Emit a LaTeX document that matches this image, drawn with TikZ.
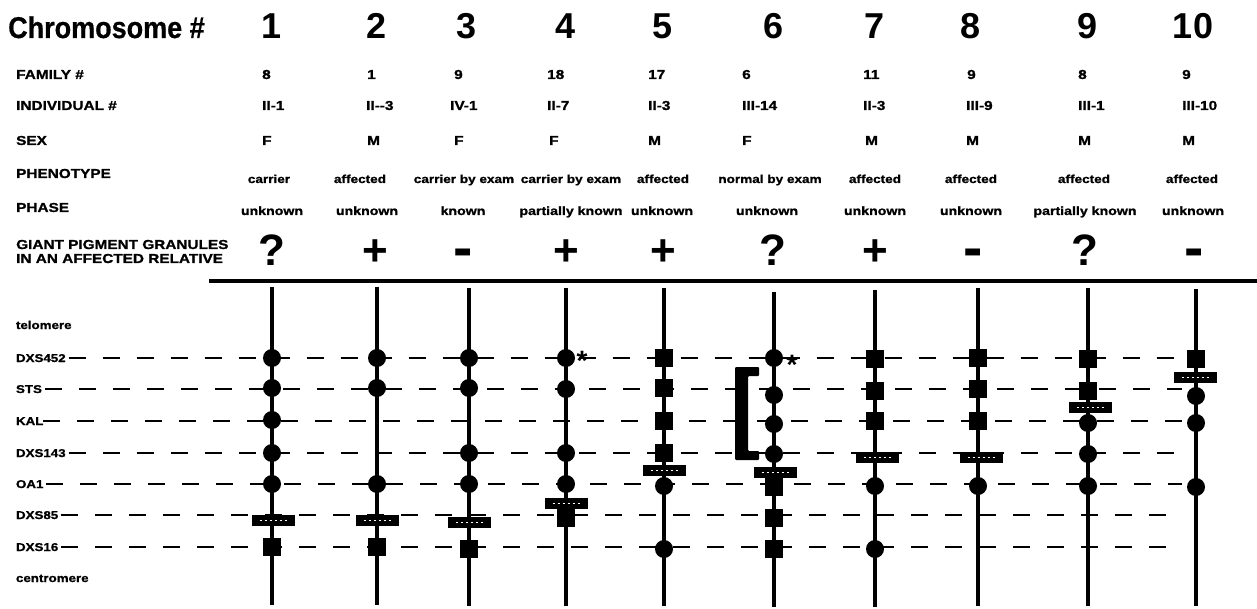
\documentclass[tikz,border=0pt]{standalone}
\usepackage{fontspec}
\setmainfont{Liberation Sans}
\newfontfamily\widesf{Liberation Sans}[FakeStretch=1.18, FakeBold=1.2]
\newfontfamily\titlesf{Liberation Sans}[FakeStretch=0.9, FakeBold=0.6]
\usepackage{tikz}

\begin{document}
\begin{tikzpicture}[
  x=1pt, y=-1pt,
  rowlbl/.style={font=\widesf\bfseries\fontsize{13}{15}\selectfont, anchor=base west, inner sep=0pt},
  cellc/.style={font=\widesf\bfseries\fontsize{12}{14}\selectfont, anchor=base, inner sep=0pt},
  phen/.style={font=\widesf\bfseries\fontsize{11.5}{13}\selectfont, anchor=base, inner sep=0pt},
  locus/.style={font=\widesf\bfseries\fontsize{11.3}{13}\selectfont, anchor=base west, inner sep=0pt, outer sep=3pt},
  bignum/.style={font=\bfseries\fontsize{36}{36}\selectfont, anchor=base, inner sep=0pt},
  sym/.style={font=\bfseries\fontsize{44}{44}\selectfont, anchor=base, inner sep=0pt},
  minus/.style={font=\bfseries\fontsize{58}{58}\selectfont, anchor=base, inner sep=0pt},
  ast/.style={font=\bfseries\fontsize{28}{28}\selectfont, anchor=base, inner sep=0pt},
  dot/.style={circle, fill, inner sep=0pt, minimum size=18pt},
  sqr/.style={rectangle, fill, inner sep=0pt, minimum size=18pt},
  xover/.style={rectangle, fill, inner sep=0pt, minimum width=43pt, minimum height=11pt,
    path picture={\draw[white, line width=1pt, dash pattern=on 2pt off 3pt]
      ([xshift=8pt]path picture bounding box.west) -- ([xshift=-8pt]path picture bounding box.east);}},
  chrom/.style={line width=4pt},
  guide/.style={line width=2.6pt, dash pattern=on 17pt off 17pt},
  rule/.style={line width=4pt}
]
  \useasboundingbox[fill=white] (0,0) rectangle (1257,609);

  % header
  \node[font=\titlesf\bfseries\fontsize{30}{30}\selectfont, anchor=base west, inner sep=0pt] (title) at (8,38) {Chromosome \#};
  \node[bignum] (n1) at (272,39) {1};
  \node[bignum] (n2) at (377,39) {2};
  \node[bignum] (n3) at (467,39) {3};
  \node[bignum] (n4) at (566,39) {4};
  \node[bignum] (n5) at (663,39) {5};
  \node[bignum] (n6) at (773,39) {6};
  \node[bignum] (n7) at (874,39) {7};
  \node[bignum] (n8) at (970,39) {8};
  \node[bignum] (n9) at (1087,39) {9};
  \node[bignum] (n10) at (1193,39) {10};

  \node[rowlbl] (fam) at (16,79) {FAMILY \#};
  \node[rowlbl] (ind) at (16,110) {INDIVIDUAL \#};
  \node[rowlbl] (sex) at (16,145) {SEX};
  \node[rowlbl] (phe) at (16,178) {PHENOTYPE};
  \node[rowlbl] (pha) at (16,212) {PHASE};
  \node[rowlbl] (gia) at (16,249) {GIANT PIGMENT GRANULES};
  \node[rowlbl] (rel) at (16,263) {IN AN AFFECTED RELATIVE};

  % family
  \node[rowlbl] (f1) at (262,79) {8};
  \node[rowlbl] (f2) at (367,79) {1};
  \node[rowlbl] (f3) at (454,79) {9};
  \node[rowlbl] (f4) at (547,79) {18};
  \node[rowlbl] (f5) at (648,79) {17};
  \node[rowlbl] (f6) at (742,79) {6};
  \node[rowlbl] (f7) at (863,79) {11};
  \node[rowlbl] (f8) at (967,79) {9};
  \node[rowlbl] (f9) at (1078,79) {8};
  \node[rowlbl] (f10) at (1182,79) {9};
  % individual
  \node[rowlbl] (i1) at (262,110) {II-1};
  \node[rowlbl] (i2) at (366,110) {II--3};
  \node[rowlbl] (i3) at (450,110) {IV-1};
  \node[rowlbl] (i4) at (547,110) {II-7};
  \node[rowlbl] (i5) at (648,110) {II-3};
  \node[rowlbl] (i6) at (742,110) {III-14};
  \node[rowlbl] (i7) at (863,110) {II-3};
  \node[rowlbl] (i8) at (966,110) {III-9};
  \node[rowlbl] (i9) at (1078,110) {III-1};
  \node[rowlbl] (i10) at (1182,110) {III-10};
  % sex
  \node[rowlbl] (s1) at (262,145) {F};
  \node[rowlbl] (s2) at (367,145) {M};
  \node[rowlbl] (s3) at (454,145) {F};
  \node[rowlbl] (s4) at (549,145) {F};
  \node[rowlbl] (s5) at (648,145) {M};
  \node[rowlbl] (s6) at (742,145) {F};
  \node[rowlbl] (s7) at (865,145) {M};
  \node[rowlbl] (s8) at (966,145) {M};
  \node[rowlbl] (s9) at (1078,145) {M};
  \node[rowlbl] (s10) at (1182,145) {M};
  % phenotype
  \node[phen] (p1) at (269,183) {carrier};
  \node[phen] (p2) at (360,183) {affected};
  \node[phen] (p3) at (464,183) {carrier by exam};
  \node[phen] (p4) at (571,183) {carrier by exam};
  \node[phen] (p5) at (663,183) {affected};
  \node[phen] (p6) at (770,183) {normal by exam};
  \node[phen] (p7) at (875,183) {affected};
  \node[phen] (p8) at (971,183) {affected};
  \node[phen] (p9) at (1084,183) {affected};
  \node[phen] (p10) at (1192,183) {affected};
  % phase
  \node[cellc] (h1) at (272,215) {unknown};
  \node[cellc] (h2) at (367,215) {unknown};
  \node[cellc] (h3) at (463,215) {known};
  \node[cellc] (h4) at (571,215) {partially known};
  \node[cellc] (h5) at (662,215) {unknown};
  \node[cellc] (h6) at (767,215) {unknown};
  \node[cellc] (h7) at (875,215) {unknown};
  \node[cellc] (h8) at (971,215) {unknown};
  \node[cellc] (h9) at (1085,215) {partially known};
  \node[cellc] (h10) at (1193,215) {unknown};
  % granules
  \node[sym] (g1) at (272,266) {?};
  \node[sym] (g2) at (375,266) {+};
  \node[minus] (g3) at (463,268) {-};
  \node[sym] (g4) at (566,266) {+};
  \node[sym] (g5) at (663,266) {+};
  \node[sym] (g6) at (773,266) {?};
  \node[sym] (g7) at (875,266) {+};
  \node[minus] (g8) at (973,268) {-};
  \node[sym] (g9) at (1085,266) {?};
  \node[minus] (g10) at (1194,268) {-};

  \coordinate (r0) at (209,281);
  \coordinate (r1) at (1257,281);
  \draw[rule] (r0) -- (r1);

  % loci
  \node[locus] (tel) at (13,329) {telomere};
  \node[locus] (dxs452) at (13,362) {DXS452};
  \node[locus] (sts) at (13,393) {STS};
  \node[locus, outer sep=0pt] (kal) at (16,425) {KAL};
  \node[locus] (dxs143) at (13,457) {DXS143};
  \node[locus] (oa1) at (13,488) {OA1};
  \node[locus] (dxs85) at (13,519) {DXS85};
  \node[locus] (dxs16) at (13,551) {DXS16};
  \node[locus] (cen) at (13,582) {centromere};

  \coordinate (rend) at (1182,0);
  \draw[guide] (dxs452.east) -- (dxs452.east -| rend);
  \draw[guide] (sts.east) -- (sts.east -| rend);
  \draw[guide] (kal.east) -- (kal.east -| rend);
  \draw[guide] (dxs143.east) -- (dxs143.east -| rend);
  \draw[guide] (oa1.east) -- (oa1.east -| rend);
  \draw[guide] (dxs85.east) -- (dxs85.east -| rend);
  \draw[guide] (dxs16.east) -- (dxs16.east -| rend);

  % chromosomes
  \coordinate (t1) at (272,287);  \coordinate (b1) at (272,605);
  \coordinate (t2) at (377,287);  \coordinate (b2) at (377,605);
  \coordinate (t3) at (469,288);  \coordinate (b3) at (469,606);
  \coordinate (t4) at (566,288);  \coordinate (b4) at (566,606);
  \coordinate (t5) at (664,288);  \coordinate (b5) at (664,606);
  \coordinate (t6) at (774,292);  \coordinate (b6) at (774,607);
  \coordinate (t7) at (875,290);  \coordinate (b7) at (875,607);
  \coordinate (t8) at (978,288);  \coordinate (b8) at (978,606);
  \coordinate (t9) at (1088,288); \coordinate (b9) at (1088,606);
  \coordinate (t10) at (1196,289); \coordinate (b10) at (1196,606);
  \draw[chrom] (t1) -- (b1);
  \draw[chrom] (t2) -- (b2);
  \draw[chrom] (t3) -- (b3);
  \draw[chrom] (t4) -- (b4);
  \draw[chrom] (t5) -- (b5);
  \draw[chrom] (t6) -- (b6);
  \draw[chrom] (t7) -- (b7);
  \draw[chrom] (t8) -- (b8);
  \draw[chrom] (t9) -- (b9);
  \draw[chrom] (t10) -- (b10);

  % chromosome 1
  \node[dot] (a1) at (272,358) {};
  \node[dot] (a2) at (272,388) {};
  \node[dot] (a3) at (272,420) {};
  \node[dot] (a4) at (272,453) {};
  \node[dot] (a5) at (272,484) {};
  \node[xover] (ax) at (273,520) {};
  \node[sqr] (a7) at (272,547) {};
  % chromosome 2
  \node[dot] (b1m) at (377,358) {};
  \node[dot] (b2m) at (377,388) {};
  \node[dot] (b5m) at (377,484) {};
  \node[xover] (bx) at (377,520) {};
  \node[sqr] (b7m) at (377,547) {};
  % chromosome 3
  \node[dot] (c1) at (469,358) {};
  \node[dot] (c2) at (469,388) {};
  \node[dot] (c4) at (469,453) {};
  \node[dot] (c5) at (469,484) {};
  \node[xover] (cx) at (469,522) {};
  \node[sqr] (c7) at (469,549) {};
  % chromosome 4
  \node[dot] (d1) at (566,358) {};
  \node[ast] (d1s) at (582,370) {*};
  \node[dot] (d2) at (566,389) {};
  \node[dot] (d4) at (566,453) {};
  \node[dot] (d5) at (566,484) {};
  \node[xover] (dx) at (566,503) {};
  \node[sqr] (d6) at (566,518) {};
  % chromosome 5
  \node[sqr] (e1) at (664,358) {};
  \node[sqr] (e2) at (664,388) {};
  \node[sqr] (e3) at (664,421) {};
  \node[sqr] (e4) at (664,453) {};
  \node[xover] (ex) at (664,470) {};
  \node[dot] (e5) at (664,486) {};
  \node[dot] (e7) at (664,549) {};
  % chromosome 6
  \node[dot] (f1m) at (774,358) {};
  \node[ast] (f1s) at (792,374) {*};
  \node[dot] (f2m) at (774,395) {};
  \node[dot] (f3m) at (774,424) {};
  \node[dot] (f4m) at (774,454) {};
  \node[xover] (fx) at (775,472) {};
  \node[sqr] (f5m) at (774,487) {};
  \node[sqr] (f6m) at (774,518) {};
  \node[sqr] (f7m) at (774,549) {};
  \fill[rounded corners=1pt] (759,367) -- (735,367) -- (735,460) -- (759,460) -- (759,451)
    -- (748,451) -- (748,376) -- (759,376) -- cycle;
  % chromosome 7
  \node[sqr] (g1m) at (875,359) {};
  \node[sqr] (g2m) at (875,391) {};
  \node[sqr] (g3m) at (875,421) {};
  \node[xover] (gx) at (877,457) {};
  \node[dot] (g5m) at (875,486) {};
  \node[dot] (g7m) at (875,549) {};
  % chromosome 8
  \node[sqr] (k1) at (978,358) {};
  \node[sqr] (k2) at (978,389) {};
  \node[sqr] (k3) at (978,421) {};
  \node[xover] (kx) at (981,457) {};
  \node[dot] (k5) at (978,486) {};
  % chromosome 9
  \node[sqr] (m1) at (1088,359) {};
  \node[sqr] (m2) at (1088,391) {};
  \node[xover] (mx) at (1090,407) {};
  \node[dot] (m3) at (1088,423) {};
  \node[dot] (m4) at (1088,454) {};
  \node[dot] (m5) at (1088,486) {};
  % chromosome 10
  \node[sqr] (q1) at (1196,359) {};
  \node[xover] (qx) at (1195,377) {};
  \node[dot] (q2) at (1196,396) {};
  \node[dot] (q3) at (1196,423) {};
  \node[dot] (q5) at (1196,487) {};
\end{tikzpicture}
\end{document}
